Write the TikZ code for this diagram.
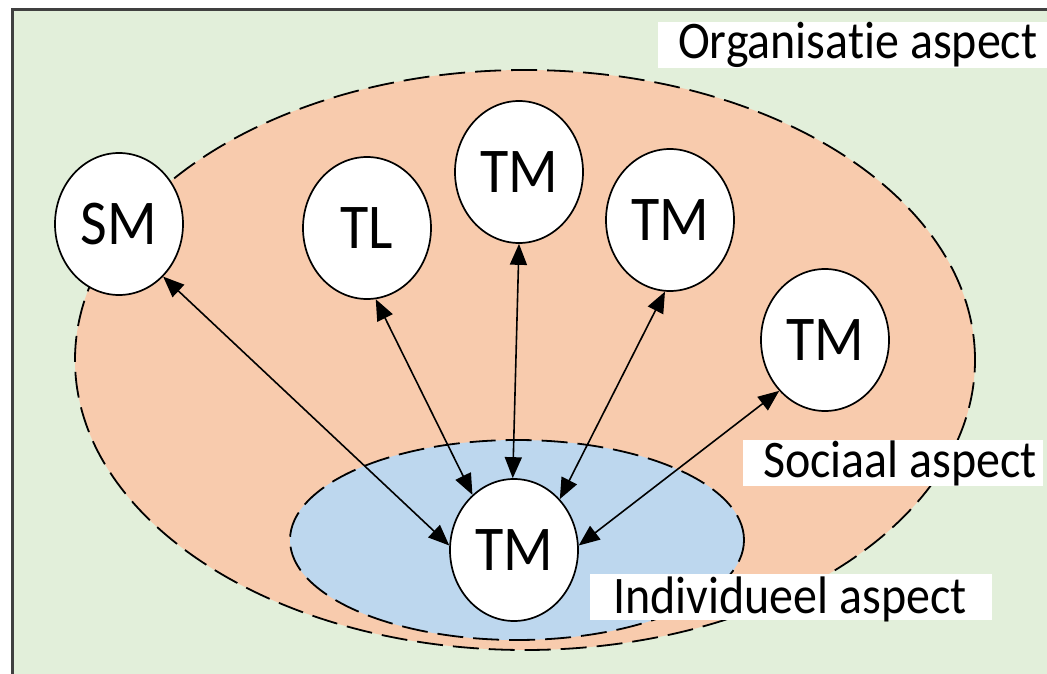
\documentclass[tikz,border=0pt]{standalone}
\usepackage{fontspec}
\usepackage{graphicx}
\setmainfont{Carlito}[Ligatures={NoCommon}]
\usetikzlibrary{shapes.geometric,arrows.meta}
\definecolor{orgbg}{HTML}{E2EFDA}
\definecolor{socfill}{HTML}{F8CBAD}
\definecolor{indfill}{HTML}{BDD7EE}
\definecolor{framegray}{HTML}{404040}
\newcommand{\tallText}[1]{\scalebox{1}[1.1]{#1}}
\begin{document}
\begin{tikzpicture}[x=1pt,y=-1pt,
  person/.style={ellipse, draw=black, line width=1.7pt, fill=white,
    minimum width=128pt, minimum height=142pt, inner sep=0pt,
    font=\fontsize{58}{58}\selectfont},
  zone/.style={draw=black, line width=1.8pt, dash pattern=on 26pt off 10pt},
  link/.style={line width=1.6pt,
    {Triangle[length=21pt,width=17pt]}-{Triangle[length=21pt,width=17pt]}},
  tag/.style={anchor=base west, inner sep=0pt, font=\fontsize{48}{48}\selectfont}]
\useasboundingbox (0,0) rectangle (1047,674);
\clip (0,0) rectangle (1047,674);
\fill[white] (0,0) rectangle (1047,674);
% organisation background
\fill[orgbg] (12,10) rectangle (1060,690);
\draw[framegray, line width=3pt] (12,690) -- (12,10) -- (1060,10);
% social and individual zones
\fill[socfill] (525,360) ellipse [x radius=450pt, y radius=290pt];
\draw[zone] (525,360) ellipse [x radius=450pt, y radius=290pt];
\fill[indfill] (517,540) ellipse [x radius=227pt, y radius=100pt];
\draw[zone] (517,540) ellipse [x radius=227pt, y radius=100pt];
% labels
\fill[white] (658,22) rectangle (1050,68);
\node[tag] (orgLabel) at (678,59) {\tallText{Organisatie aspect}};
\fill[white] (743,440) rectangle (1043,486);
\node[tag] (socLabel) at (763,477) {\tallText{Sociaal aspect}};
\fill[white] (590,574) rectangle (992,620);
\node[tag] (indLabel) at (613,613) {\tallText{Individueel aspect}};
% people
\node[person] (sm)   at (119,224) {\tallText{SM}};
\node[person] (tl)   at (367,228) {\tallText{TL}};
\node[person] (tmA)  at (519,172) {\tallText{TM}};
\node[person] (tmB)  at (670,220) {\tallText{TM}};
\node[person] (tmC)  at (825,340) {\tallText{TM}};
\node[person] (self) at (514,550) {\tallText{TM}};
% relations
\draw[link] (sm.-50)  -- (self.176);
\draw[link] (tl.-83)  -- (self.127);
\draw[link] (tmA.-90) -- (self.91);
\draw[link] (tmB.-94) -- (self.48);
\draw[link] (tmC.-132) -- (self.4);
\end{tikzpicture}
\end{document}
